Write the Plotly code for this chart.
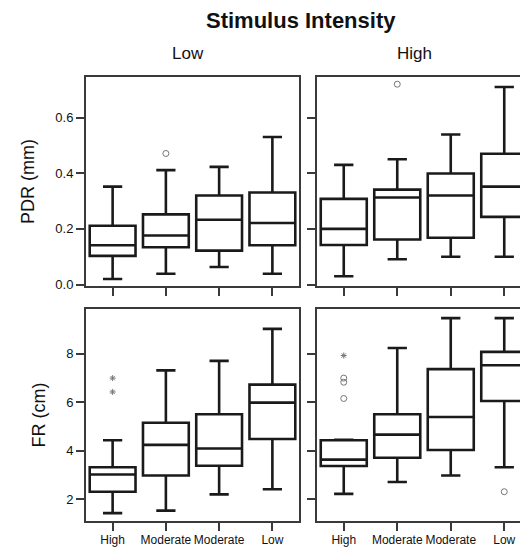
import plotly.graph_objects as go

# ---------------- data ----------------
categories = ["High", "Moderate", "Moderate", "Low"]
positions = [0, 1, 2, 3]

# PDR (mm), Low stimulus intensity
pdr_low_lower = [0.020, 0.039, 0.063, 0.039]
pdr_low_q1 = [0.103, 0.134, 0.122, 0.141]
pdr_low_median = [0.141, 0.176, 0.233, 0.221]
pdr_low_q3 = [0.211, 0.252, 0.320, 0.331]
pdr_low_upper = [0.352, 0.411, 0.423, 0.530]

# PDR (mm), High stimulus intensity
pdr_high_lower = [0.030, 0.091, 0.100, 0.100]
pdr_high_q1 = [0.142, 0.162, 0.168, 0.243]
pdr_high_median = [0.200, 0.313, 0.320, 0.352]
pdr_high_q3 = [0.308, 0.341, 0.399, 0.470]
pdr_high_upper = [0.430, 0.450, 0.539, 0.710]

# FR (cm), Low stimulus intensity
fr_low_lower = [1.43, 1.53, 2.20, 2.41]
fr_low_q1 = [2.31, 2.98, 3.38, 4.48]
fr_low_median = [3.02, 4.24, 4.09, 5.98]
fr_low_q3 = [3.32, 5.15, 5.50, 6.72]
fr_low_upper = [4.43, 7.31, 7.70, 9.02]

# FR (cm), High stimulus intensity
fr_high_lower = [2.22, 2.71, 2.98, 3.32]
fr_high_q1 = [3.37, 3.71, 4.03, 6.05]
fr_high_median = [3.63, 4.66, 5.39, 7.52]
fr_high_q3 = [4.43, 5.50, 7.36, 8.07]
fr_high_upper = [4.45, 8.23, 9.46, 9.46]

# outliers (category index, value)
pdr_low_out_x = [1]
pdr_low_out_y = [0.471]
pdr_high_out_x = [1]
pdr_high_out_y = [0.720]
fr_low_ext_x = [0, 0]
fr_low_ext_y = [6.99, 6.42]
fr_high_ext_x = [0]
fr_high_ext_y = [7.92]
fr_high_out_x = [0, 0, 0, 3]
fr_high_out_y = [6.99, 6.82, 6.15, 2.31]

pdr_ticks = [0.0, 0.2, 0.4, 0.6]
fr_ticks = [2, 4, 6, 8]

# ---------------- figure ----------------
FONT = "Liberation Sans, Arial, sans-serif"
LINE = "#1a1a1a"
FRAME = "#3a3a3a"
PT = "#777777"

fig = go.Figure()


def add_box(xa, ya, lower, q1, med, q3, upper):
    fig.add_trace(go.Box(
        x=positions, q1=q1, median=med, q3=q3,
        lowerfence=lower, upperfence=upper,
        width=0.86, whiskerwidth=0.42,
        fillcolor="white", line=dict(color=LINE, width=2.6),
        boxpoints=False, showlegend=False,
        xaxis=xa, yaxis=ya,
    ))


def add_points(xa, ya, xs, ys, symbol, size):
    fig.add_trace(go.Scatter(
        x=xs, y=ys, mode="markers",
        marker=dict(symbol=symbol, size=size, color=PT,
                    line=dict(color=PT, width=1)),
        showlegend=False, xaxis=xa, yaxis=ya,
    ))


add_box("x", "y", pdr_low_lower, pdr_low_q1, pdr_low_median, pdr_low_q3, pdr_low_upper)
add_box("x2", "y2", pdr_high_lower, pdr_high_q1, pdr_high_median, pdr_high_q3, pdr_high_upper)
add_box("x3", "y3", fr_low_lower, fr_low_q1, fr_low_median, fr_low_q3, fr_low_upper)
add_box("x4", "y4", fr_high_lower, fr_high_q1, fr_high_median, fr_high_q3, fr_high_upper)

add_points("x", "y", pdr_low_out_x, pdr_low_out_y, "circle-open", 6)
add_points("x2", "y2", pdr_high_out_x, pdr_high_out_y, "circle-open", 6)
add_points("x3", "y3", fr_low_ext_x, fr_low_ext_y, "asterisk-open", 5)
add_points("x4", "y4", fr_high_ext_x, fr_high_ext_y, "asterisk-open", 5)
add_points("x4", "y4", fr_high_out_x, fr_high_out_y, "circle-open", 6)

W, H = 528, 549
xd_left = [78 / W, 291 / W]
xd_right = [309 / W, 523 / W]
yd_top = [1 - 281 / H, 1 - 70 / H]
yd_bot = [1 - 519 / H, 1 - 304 / H]

common_axis = dict(
    showline=True, mirror=True, linecolor=FRAME, linewidth=2,
    ticks="outside", ticklen=8, tickwidth=2, tickcolor=FRAME,
    showgrid=False, zeroline=False, fixedrange=True,
)


def xaxis(domain, anchor, labels):
    return dict(common_axis, domain=domain, anchor=anchor,
                range=[-0.5, 3.5], tickmode="array", tickvals=positions,
                ticktext=categories, showticklabels=labels, tickangle=0,
                ticklabelstandoff=-2,
                tickfont=dict(family=FONT, size=12, color="#111"))


def yaxis(domain, anchor, rng, ticks, labels, title, fmt):
    d = dict(common_axis, domain=domain, anchor=anchor, range=rng,
             tickmode="array", tickvals=ticks, showticklabels=labels,
             tickformat=fmt,
             tickfont=dict(family=FONT, size=13, color="#111"))
    if title:
        d["title"] = dict(text=title, font=dict(family=FONT, size=18, color="#111"),
                          standoff=16)
    return d


fig.update_layout(
    width=W, height=H,
    margin=dict(l=0, r=0, t=0, b=0),
    paper_bgcolor="white", plot_bgcolor="white",
    xaxis=xaxis(xd_left, "y", False),
    xaxis2=xaxis(xd_right, "y2", False),
    xaxis3=xaxis(xd_left, "y3", True),
    xaxis4=xaxis(xd_right, "y4", True),
    yaxis=yaxis(yd_top, "x", [-0.005, 0.745], pdr_ticks, True, "PDR (mm)", ".1f"),
    yaxis2=yaxis(yd_top, "x2", [-0.005, 0.745], pdr_ticks, False, None, ".1f"),
    yaxis3=yaxis(yd_bot, "x3", [1.09, 9.85], fr_ticks, True, "FR (cm)", "d"),
    yaxis4=yaxis(yd_bot, "x4", [1.09, 9.85], fr_ticks, False, None, "d"),
    annotations=[
        dict(text="<b>Stimulus Intensity</b>", x=293 / W, y=1 - 13 / H,
             xref="paper", yref="paper", showarrow=False,
             font=dict(family=FONT, size=22, color="#111"),
             xanchor="center", yanchor="middle"),
        dict(text="Low", x=180 / W, y=1 - 46 / H, xref="paper", yref="paper",
             showarrow=False, font=dict(family=FONT, size=17, color="#111"),
             xanchor="center", yanchor="middle"),
        dict(text="High", x=406 / W, y=1 - 46 / H, xref="paper", yref="paper",
             showarrow=False, font=dict(family=FONT, size=17, color="#111"),
             xanchor="center", yanchor="middle"),
    ],
)

fig.write_html("out.html")
